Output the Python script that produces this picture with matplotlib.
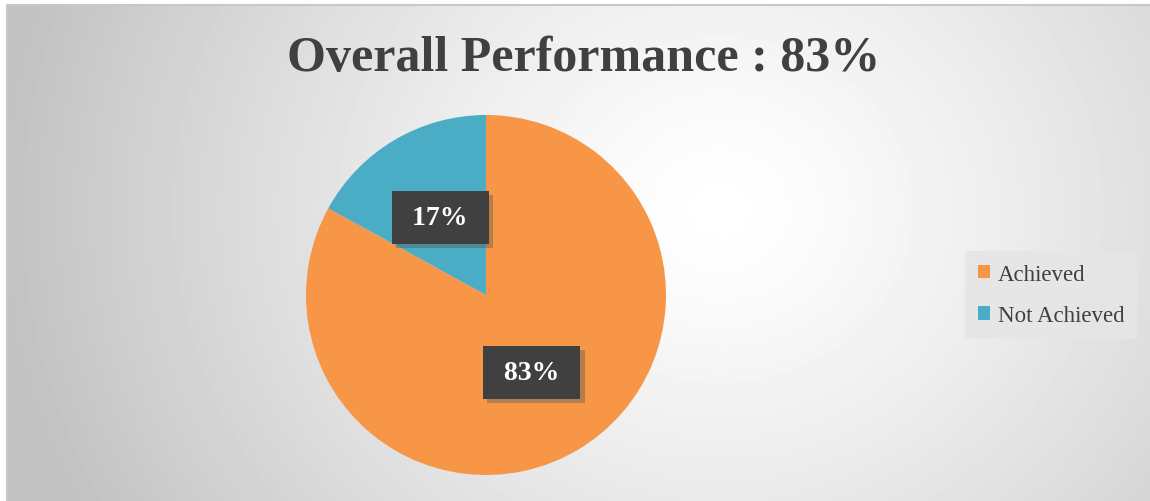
import numpy as np
import matplotlib
matplotlib.use('Agg')
import matplotlib.pyplot as plt
import matplotlib.patheffects as pe
from matplotlib.patches import Rectangle

labels = ['Achieved', 'Not Achieved']
values = [83, 17]
colors = ['#F79646', '#4BACC6']
title = 'Overall Performance : 83%'

W, H = 1150, 502
fig = plt.figure(figsize=(W / 100, H / 100), dpi=100)
fig.patch.set_facecolor('white')

# radial grey background of the chart area
bg = fig.add_axes([7 / W, 0, (W - 7) / W, (H - 7) / H])
yy, xx = np.mgrid[7:H, 7:W]
d = np.hypot((xx - 720) / 1.0, (yy - 210) / 0.9)
shade = 1.0 - 0.24 * np.clip(d / 720, 0, 1) ** 1.3
bg.imshow(shade, cmap='gray', vmin=0, vmax=1, extent=[0, 1, 0, 1],
          aspect='auto', interpolation='bilinear')
bg.set_axis_off()
fig.add_artist(Rectangle((7 / W, -0.01), 1, (H - 6) / H + 0.01,
                         transform=fig.transFigure, fill=False,
                         ec='#c8c8c8', lw=1.5))

fig.text(584 / W, 1 - 59 / H, title, ha='center', va='center',
         family='Liberation Serif', weight='bold', fontsize=36, color='#404040')

ax = fig.add_axes([306 / W, 26 / H, 360 / W, 360 / H])
wedges, texts, autotexts = ax.pie(values, colors=colors, startangle=90,
                                  counterclock=False, radius=1,
                                  autopct=lambda p: f' {p:.0f}% ',
                                  pctdistance=0.5)
ax.set_xlim(-1, 1)
ax.set_ylim(-1, 1)
ax.set_aspect('auto')

for t in autotexts:
    t.set_family('Liberation Serif')
    t.set_weight('bold')
    t.set_fontsize(20)
    t.set_color('white')
    t.set_bbox(dict(boxstyle='square,pad=0.5', fc='#404040', ec='none'))
    t.get_bbox_patch().set_path_effects([
        pe.SimplePatchShadow(offset=(3, -3), shadow_rgbFace='#555555', alpha=0.4),
        pe.Normal()])

leg = fig.legend(wedges, labels, loc='center left',
                 bbox_to_anchor=(965 / W, 1 - 296 / H), borderaxespad=0,
                 prop={'family': 'Liberation Serif', 'size': 16.5},
                 frameon=True, fancybox=False, handlelength=0.55,
                 handleheight=0.55, labelspacing=0.9, borderpad=0.55,
                 handletextpad=0.35, labelcolor='#404040')
leg.get_frame().set_facecolor('#e6e6e6')
leg.get_frame().set_edgecolor('none')
leg.get_frame().set_alpha(0.9)

fig.savefig('out.png', dpi=100)
